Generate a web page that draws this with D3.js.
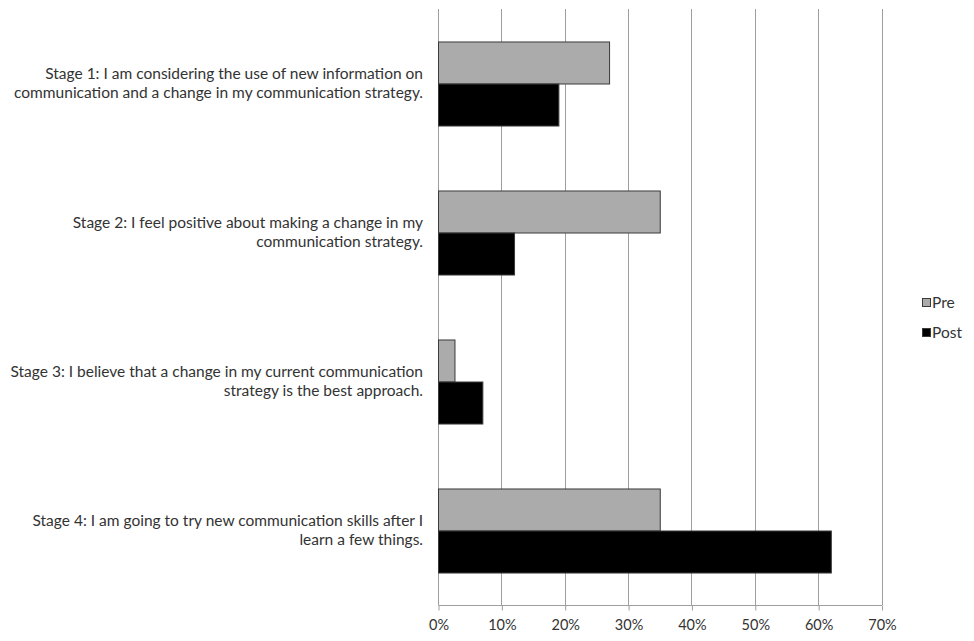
<!DOCTYPE html>
<html>
<head>
<meta charset="utf-8">
<script src="https://cdn.jsdelivr.net/npm/d3@7"></script>
<style>
  html, body { margin: 0; padding: 0; background: #fff; }
  svg { display: block; }
  text { font-family: Lato, "Open Sans", sans-serif; fill: #333; }
</style>
</head>
<body>
<svg id="chart" width="974" height="641"></svg>
<script>
const categories = ["Stage 1", "Stage 2", "Stage 3", "Stage 4"];
const categoryLabels = [
  ["Stage 1: I am considering the use of new information on", "communication and a change in my communication strategy."],
  ["Stage 2: I feel positive about making a change in my", "communication strategy."],
  ["Stage 3: I believe that a change in my current communication", "strategy is the best approach."],
  ["Stage 4: I am going to try new communication skills after I", "learn a few things."]
];
const seriesNames = ["Pre", "Post"];
const preValues = [27, 35, 2.6, 35];
const postValues = [19, 12, 7, 62];
const xTicks = [0, 10, 20, 30, 40, 50, 60, 70];
const seriesColors = ["#ababab", "#000000"];

const svg = d3.select("#chart");
const plotLeft = 438, plotRight = 881.5, plotTop = 9, plotBottom = 605;

const x = d3.scaleLinear().domain([0, 70]).range([plotLeft, plotRight]);
const y = d3.scaleBand().domain(categories).range([plotTop, plotBottom]).paddingInner(0.436).paddingOuter(0.218);
const ySub = d3.scaleBand().domain(seriesNames).range([0, y.bandwidth()]);

// gridlines
svg.append("g").selectAll("line").data(xTicks).join("line")
  .attr("x1", d => Math.round(x(d)) + 0.5).attr("x2", d => Math.round(x(d)) + 0.5)
  .attr("y1", plotTop).attr("y2", plotBottom)
  .attr("stroke", "#9e9e9e").attr("stroke-width", 1);

// x axis
const xAxis = d3.axisBottom(x).tickValues(xTicks).tickFormat(d => d + "%").tickSize(5).tickPadding(9);
const gx = svg.append("g").attr("transform", `translate(0.5,${plotBottom + 0.5})`).call(xAxis);
gx.select(".domain").attr("stroke", "#9e9e9e").attr("d", `M${plotLeft},0H${plotRight}`);
gx.selectAll(".tick line").attr("stroke", "#9e9e9e");
gx.selectAll(".tick text").style("font-size", "14.5px").attr("fill", "#333")
  .style("font-family", "Lato, 'Open Sans', sans-serif");

// bars
const data = categories.map((c, i) => ({ cat: c, values: [preValues[i], postValues[i]] }));
const groups = svg.append("g").selectAll("g").data(data).join("g")
  .attr("transform", d => `translate(0,${y(d.cat)})`);
groups.selectAll("rect").data(d => d.values.map((v, j) => ({ v, s: seriesNames[j], j }))).join("rect")
  .attr("x", x(0) + 0.5)
  .attr("y", d => ySub(d.s) + 0.5)
  .attr("width", d => x(d.v) - x(0))
  .attr("height", ySub.bandwidth())
  .attr("fill", d => seriesColors[d.j])
  .attr("stroke", "#3a3a3a").attr("stroke-width", 1);

// category labels
const lab = svg.append("g").selectAll("text").data(categories).join("text")
  .attr("text-anchor", "end")
  .style("font-size", "15.5px")
  .attr("transform", d => `translate(423,${y(d) + y.bandwidth() / 2})`);
lab.each(function(d, i) {
  const t = d3.select(this);
  const lines = categoryLabels[i];
  lines.forEach((ln, k) => {
    t.append("tspan").attr("x", 0).attr("y", (k - (lines.length - 1) / 2) * 19).attr("dy", "0.35em").text(ln);
  });
});

// legend
const leg = svg.append("g").attr("transform", "translate(922,298)");
seriesNames.forEach((s, i) => {
  const g = leg.append("g").attr("transform", `translate(0,${i * 30})`);
  g.append("rect").attr("x", 0.5).attr("y", 0.5).attr("width", 8).attr("height", 8)
    .attr("fill", seriesColors[i]).attr("stroke", "#3a3a3a");
  g.append("text").attr("x", 10).attr("y", 5).attr("dy", "0.35em").style("font-size", "15.5px").text(s);
});
</script>
</body>
</html>
